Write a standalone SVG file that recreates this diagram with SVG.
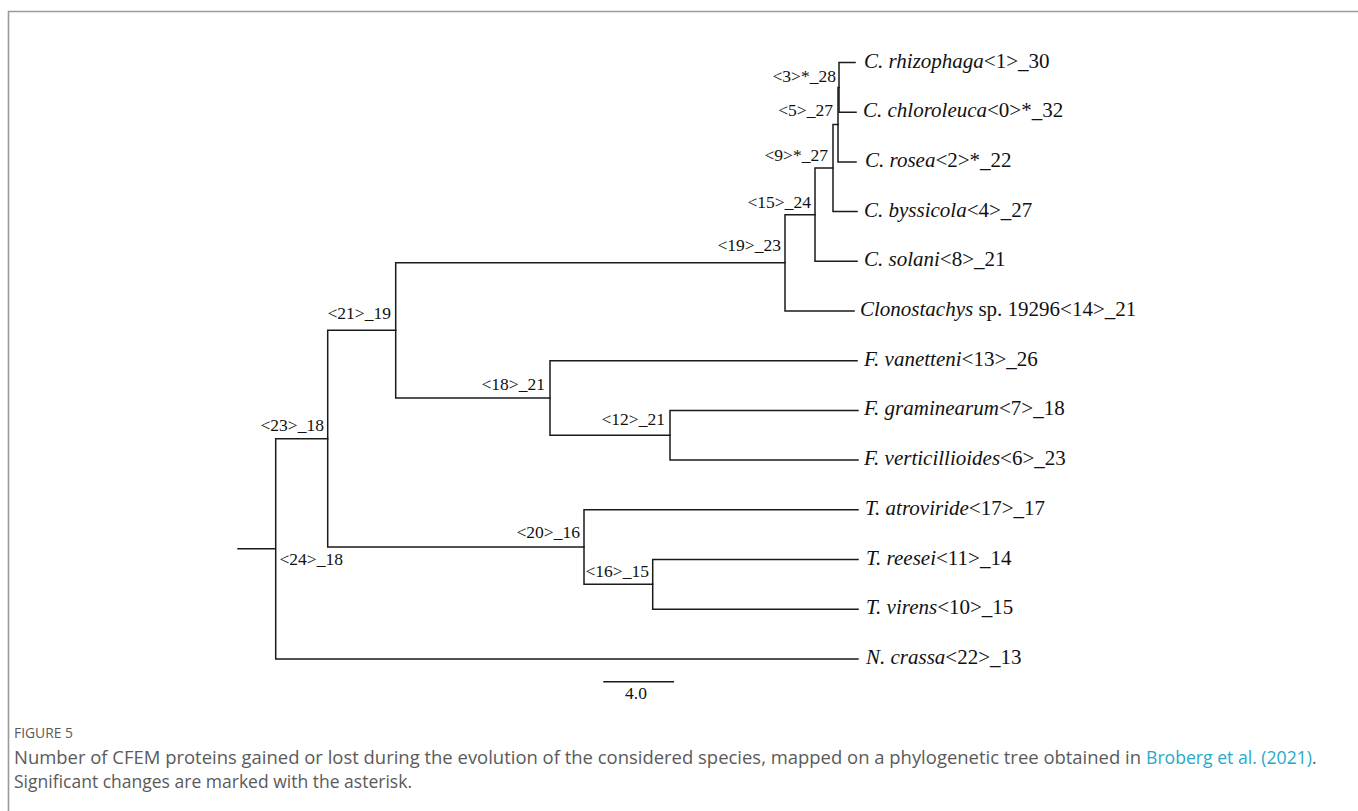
<svg xmlns="http://www.w3.org/2000/svg" width="1358" height="811" viewBox="0 0 1358 811">
<style>
.br{fill:none;stroke:#1a1a1a;stroke-width:1.5;stroke-linecap:square}
.leaf{font-family:"Liberation Serif","Times New Roman",serif;font-size:21px;fill:#111}
.leaf .i{font-style:italic}
.nl{font-family:"Liberation Serif","Times New Roman",serif;font-size:17.5px;fill:#111}
.cap{font-family:"Open Sans","Noto Sans",sans-serif;fill:#5a5a5a}
.link{fill:#29a9c7}
</style>
<rect width="1358" height="811" fill="#fff"/>
<path d="M8.5,811 V11.5 H1358" fill="none" stroke="#9a9a9a" stroke-width="1.6"/>
<g id="connectors">
<path class="br" d="M238,548.8 H275.7 M275.7,438.7 V658.9 M275.7,658.9 H858 M275.7,438.7 H327.7"/>
<path class="br" d="M327.7,330.35 V547.1 M327.7,330.35 H395.7 M327.7,547.1 H584"/>
<path class="br" d="M395.7,262.8 V398 M395.7,262.8 H785 M395.7,398 H550"/>
<path class="br" d="M785,214.7 V311 M785,311 H854 M785,214.7 H815"/>
<path class="br" d="M815,168.1 V261.3 M815,261.3 H857 M815,168.1 H833"/>
<path class="br" d="M833,124.6 V211.6 M833,211.6 H857 M833,124.6 H838"/>
<path class="br" d="M838,87.4 V161.9 M838,161.9 H856 M838,87.4 H839"/>
<path class="br" d="M839,62.5 V112.2 M839,62.5 H855 M839,112.2 H856"/>
<path class="br" d="M550,360.7 V435.25 M550,360.7 H857 M550,435.25 H670"/>
<path class="br" d="M670,410.4 V460.1 M670,410.4 H858 M670,460.1 H858"/>
<path class="br" d="M584,509.8 V584.35 M584,509.8 H858 M584,584.35 H652.7"/>
<path class="br" d="M652.7,559.5 V609.2 M652.7,559.5 H858 M652.7,609.2 H858"/>
<path class="br" d="M604,681.7 H673.3"/>
</g>
<g id="leaf-rhizophaga"><text class="leaf" x="864" y="67.5"><tspan class="i">C. rhizophaga</tspan>&lt;1&gt;_30</text></g>
<g id="leaf-chloroleuca"><text class="leaf" x="863" y="117.2"><tspan class="i">C. chloroleuca</tspan>&lt;0&gt;*_32</text></g>
<g id="leaf-rosea"><text class="leaf" x="865" y="166.9"><tspan class="i">C. rosea</tspan>&lt;2&gt;*_22</text></g>
<g id="leaf-byssicola"><text class="leaf" x="864" y="216.6"><tspan class="i">C. byssicola</tspan>&lt;4&gt;_27</text></g>
<g id="leaf-solani"><text class="leaf" x="864" y="266.3"><tspan class="i">C. solani</tspan>&lt;8&gt;_21</text></g>
<g id="leaf-clonostachys"><text class="leaf" x="860" y="316"><tspan class="i">Clonostachys</tspan> sp. 19296&lt;14&gt;_21</text></g>
<g id="leaf-vanetteni"><text class="leaf" x="864" y="365.7"><tspan class="i">F. vanetteni</tspan>&lt;13&gt;_26</text></g>
<g id="leaf-graminearum"><text class="leaf" x="864" y="415.4"><tspan class="i">F. graminearum</tspan>&lt;7&gt;_18</text></g>
<g id="leaf-verticillioides"><text class="leaf" x="864" y="465.1"><tspan class="i">F. verticillioides</tspan>&lt;6&gt;_23</text></g>
<g id="leaf-atroviride"><text class="leaf" x="865" y="514.8"><tspan class="i">T. atroviride</tspan>&lt;17&gt;_17</text></g>
<g id="leaf-reesei"><text class="leaf" x="866" y="564.5"><tspan class="i">T. reesei</tspan>&lt;11&gt;_14</text></g>
<g id="leaf-virens"><text class="leaf" x="866" y="614.2"><tspan class="i">T. virens</tspan>&lt;10&gt;_15</text></g>
<g id="leaf-crassa"><text class="leaf" x="866" y="663.9"><tspan class="i">N. crassa</tspan>&lt;22&gt;_13</text></g>
<g id="node3"><text class="nl" x="836" y="82" text-anchor="end">&lt;3&gt;*_28</text></g>
<g id="node5"><text class="nl" x="833" y="116" text-anchor="end">&lt;5&gt;_27</text></g>
<g id="node9"><text class="nl" x="828" y="161" text-anchor="end">&lt;9&gt;*_27</text></g>
<g id="node15"><text class="nl" x="811" y="208" text-anchor="end">&lt;15&gt;_24</text></g>
<g id="node19"><text class="nl" x="781" y="251" text-anchor="end">&lt;19&gt;_23</text></g>
<g id="node21"><text class="nl" x="391" y="319" text-anchor="end">&lt;21&gt;_19</text></g>
<g id="node18"><text class="nl" x="545" y="390" text-anchor="end">&lt;18&gt;_21</text></g>
<g id="node12"><text class="nl" x="665" y="425" text-anchor="end">&lt;12&gt;_21</text></g>
<g id="node23"><text class="nl" x="324" y="431" text-anchor="end">&lt;23&gt;_18</text></g>
<g id="node24"><text class="nl" x="279.5" y="565">&lt;24&gt;_18</text></g>
<g id="node20"><text class="nl" x="580" y="538" text-anchor="end">&lt;20&gt;_16</text></g>
<g id="node16"><text class="nl" x="649" y="577" text-anchor="end">&lt;16&gt;_15</text></g>
<g id="scale"><text class="nl" x="636" y="699" text-anchor="middle">4.0</text></g>
<g id="caption">
<text class="cap" x="14" y="737.5" font-size="15" textLength="59" lengthAdjust="spacingAndGlyphs">FIGURE 5</text>
<text class="cap" x="14" y="763.5" font-size="17.5" textLength="1127" lengthAdjust="spacingAndGlyphs">Number of CFEM proteins gained or lost during the evolution of the considered species, mapped on a phylogenetic tree obtained in</text>
<text class="cap link" x="1146" y="763.5" font-size="17.5" textLength="166" lengthAdjust="spacingAndGlyphs">Broberg et al. (2021)</text>
<text class="cap" x="1312" y="763.5" font-size="17.5">.</text>
<text class="cap" x="14" y="787.5" font-size="17.5" textLength="398" lengthAdjust="spacingAndGlyphs">Significant changes are marked with the asterisk.</text>
</g>
</svg>
